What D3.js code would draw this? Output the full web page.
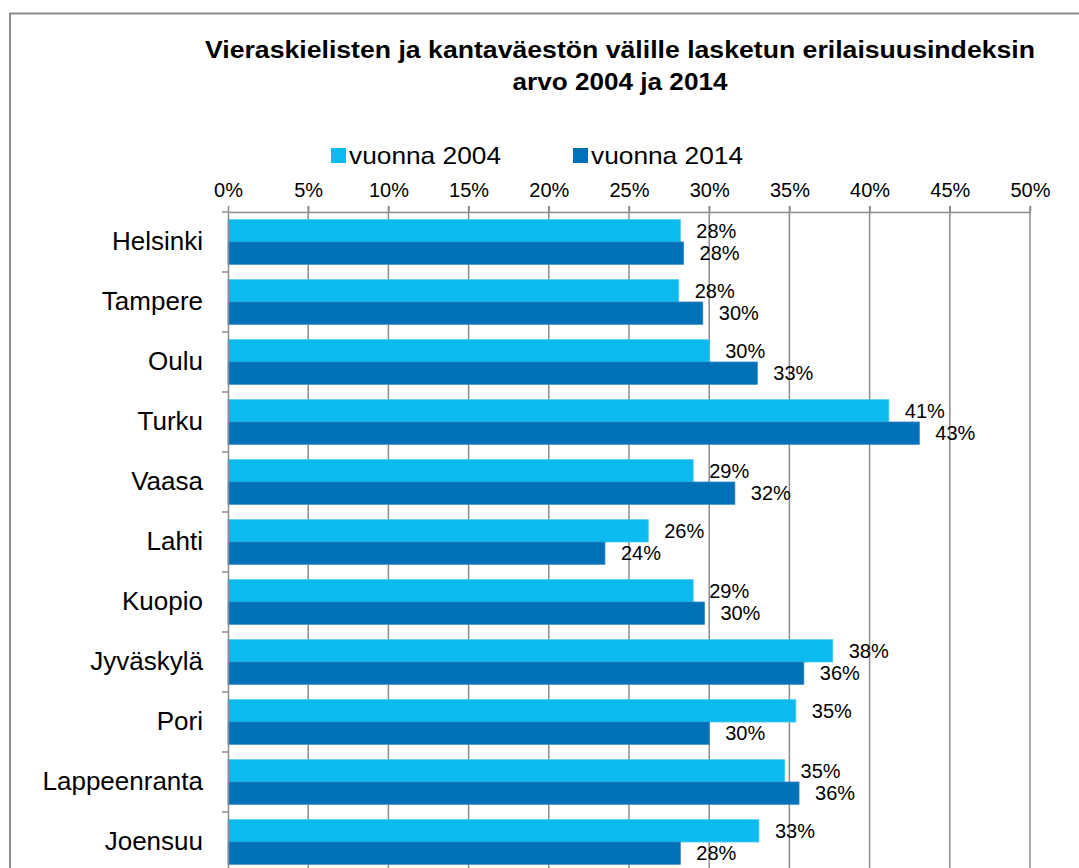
<!DOCTYPE html>
<html><head><meta charset="utf-8">
<script src="https://cdn.jsdelivr.net/npm/d3@7"></script>
<style>body{margin:0;background:#fff}svg{display:block}text{font-family:"Liberation Sans",Arial,sans-serif}</style>
</head><body>
<svg id="c" width="1079" height="868"></svg>
<script>
const categories = ["Helsinki","Tampere","Oulu","Turku","Vaasa","Lahti","Kuopio","Jyväskylä","Pori","Lappeenranta","Joensuu"];
const series = ["vuonna 2004","vuonna 2014"];
const values2004 = [0.282,0.281,0.300,0.412,0.290,0.262,0.290,0.377,0.354,0.347,0.331];
const values2014 = [0.284,0.296,0.330,0.431,0.316,0.235,0.297,0.359,0.300,0.356,0.282];
const xTicks = [0,0.05,0.10,0.15,0.20,0.25,0.30,0.35,0.40,0.45,0.50];
const titleLines = ["Vieraskielisten ja kantaväestön välille lasketun erilaisuusindeksin","arvo 2004 ja 2014"];
const colors = ["#0bbbef","#0070b8"];

const svg = d3.select("#c");
// chart border
svg.append("rect").attr("x",10).attr("y",13.5).attr("width",1100).attr("height",900)
  .attr("fill","none").attr("stroke","#8c8c8c").attr("stroke-width",2);

const x = d3.scaleLinear().domain([0,0.5]).range([228,1030]);
const y = d3.scaleBand().domain(categories).range([212,872]).paddingInner(0.257).paddingOuter(0.1285);
const ys = d3.scaleBand().domain(series).range([0,y.bandwidth()]);

// title
const titleW = [830,215];
svg.append("g").selectAll("text").data(titleLines).join("text")
  .attr("x",620).attr("y",(d,i)=>58+i*32).attr("text-anchor","middle")
  .attr("font-size",23).attr("font-weight","bold").attr("fill","#000")
  .attr("textLength",(d,i)=>titleW[i]).attr("lengthAdjust","spacingAndGlyphs").text(d=>d);

// legend
const lg = svg.append("g");
const legX = [331,573];
series.forEach((s,i)=>{
  lg.append("rect").attr("x",legX[i]).attr("y",148).attr("width",15).attr("height",15).attr("fill",colors[i]);
  lg.append("text").attr("x",legX[i]+18).attr("y",164).attr("font-size",24).attr("fill","#000")
    .attr("textLength",152).attr("lengthAdjust","spacingAndGlyphs").text(s);
});

// gridlines
svg.append("g").selectAll("line").data(xTicks.slice(1)).join("line")
  .attr("x1",d=>x(d)).attr("x2",d=>x(d)).attr("y1",206).attr("y2",872)
  .attr("stroke","#8c8c8c").attr("stroke-width",1.5);

// top axis
const xa = svg.append("g").attr("transform","translate(0,212)")
  .call(d3.axisTop(x).tickValues(xTicks).tickFormat(d3.format(".0%")).tickSizeInner(6).tickSizeOuter(0).tickPadding(9));
xa.select(".domain").attr("stroke","#8c8c8c").attr("stroke-width",1.5);
xa.selectAll(".tick line").attr("stroke","#8c8c8c").attr("stroke-width",1.5);
xa.selectAll("text").attr("font-size",20).attr("fill","#000").attr("font-family","'Liberation Sans',Arial,sans-serif");

// bars
const gcat = svg.append("g").selectAll("g").data(categories).join("g")
  .attr("transform",d=>`translate(0,${y(d)})`);
const rows = categories.map((c,i)=>[values2004[i],values2014[i]]);
gcat.each(function(c,i){
  const g = d3.select(this);
  rows[i].forEach((v,j)=>{
    g.append("rect").attr("x",x(0)).attr("y",ys(series[j])).attr("width",x(v)-x(0)).attr("height",ys.bandwidth())
      .attr("fill",colors[j]).attr("stroke",j===0?"#3fc8f2":"#2b86c4").attr("stroke-width",0.8);
    g.append("text").attr("x",x(v)+16).attr("y",ys(series[j])+ys.bandwidth()/2).attr("dy","0.36em")
      .attr("font-size",20).attr("fill","#000").text(d3.format(".0%")(v));
  });
});

// left axis
const ya = svg.append("g").attr("transform","translate(228,0)")
  .call(d3.axisLeft(y).tickSize(0).tickPadding(25));
ya.select(".domain").attr("stroke","#8c8c8c").attr("stroke-width",1.5);
ya.selectAll("text").attr("font-size",26).attr("fill","#000").attr("font-family","'Liberation Sans',Arial,sans-serif");
// category boundary ticks
const bounds = categories.map(c=>y(c)-y.step()*y.paddingInner()/2).concat([y.range()[1]]);
svg.append("g").selectAll("line").data(bounds).join("line")
  .attr("x1",222).attr("x2",228).attr("y1",d=>d).attr("y2",d=>d)
  .attr("stroke","#8c8c8c").attr("stroke-width",1.5);
</script>
</body></html>
